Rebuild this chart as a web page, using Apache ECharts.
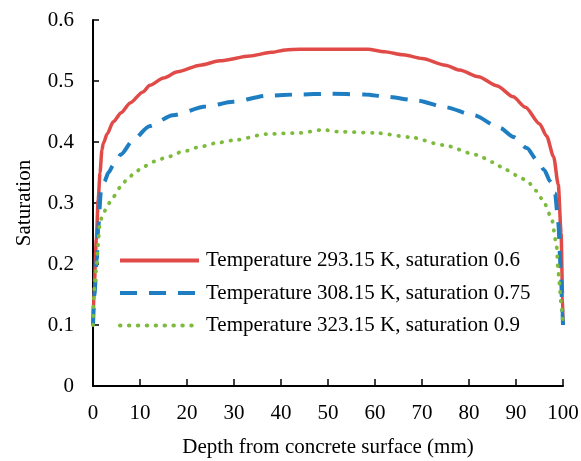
<!DOCTYPE html>
<html>
<head>
<meta charset="utf-8">
<script src="https://cdn.jsdelivr.net/npm/echarts@6/dist/echarts.min.js"></script>
<style>
  html, body { margin: 0; padding: 0; background: #fff; }
  #chart { width: 581px; height: 461px; }
</style>
</head>
<body>
<div id="chart"></div>
<script>
  // 数据：深度 (mm) 与饱和度
  const seriesNames = [
    "Temperature 293.15 K, saturation 0.6",
    "Temperature 308.15 K, saturation 0.75",
    "Temperature 323.15 K, saturation 0.9",
  ];

  const depthRed = [0, 0.3, 0.7, 1.1, 1.5, 1.9, 2.2, 3, 4.3, 6, 7.9, 10.6, 12.1, 15, 18, 22.8, 27, 33.4, 38, 41, 44, 50, 58.5, 62, 66, 70, 75, 78, 82, 86, 89.4, 92, 95, 96.5, 98, 99, 99.6, 99.9, 100];
  const satRed = [0.10, 0.17, 0.24, 0.305, 0.35, 0.387, 0.398, 0.413, 0.433, 0.448, 0.464, 0.482, 0.493, 0.505, 0.515, 0.526, 0.533, 0.541, 0.547, 0.551, 0.552, 0.552, 0.552, 0.548, 0.543, 0.537, 0.526, 0.518, 0.507, 0.492, 0.474, 0.457, 0.43, 0.41, 0.376, 0.33, 0.25, 0.15, 0.10];

  const depthBlue = [0, 0.3, 0.8, 1.1, 1.7, 2.4, 3.3, 4.3, 6, 8.5, 12, 17, 24, 29.8, 37, 44, 50, 58, 62.5, 69, 75, 81, 86.6, 89.5, 92.3, 94.5, 96, 97.3, 98.3, 99, 99.5, 99.9, 100];
  const satBlue = [0.10, 0.15, 0.207, 0.26, 0.32, 0.335, 0.35, 0.362, 0.38, 0.403, 0.426, 0.444, 0.458, 0.466, 0.476, 0.478, 0.479, 0.478, 0.474, 0.468, 0.457, 0.444, 0.423, 0.408, 0.39, 0.37, 0.354, 0.335, 0.316, 0.267, 0.195, 0.12, 0.10];

  const depthGreen = [0, 0.1, 0.4, 0.8, 1.0, 1.5, 2.2, 3.2, 4.3, 5.7, 7.2, 8.8, 10.6, 13, 15.7, 19, 22.8, 26, 30, 37, 44, 49, 52, 60, 67.5, 74.5, 81.7, 85, 88, 90.5, 92.5, 94.3, 95.7, 97.5, 98.6, 99, 99.7, 100];
  const satGreen = [0.10, 0.14, 0.17, 0.20, 0.228, 0.27, 0.283, 0.298, 0.31, 0.325, 0.338, 0.349, 0.359, 0.368, 0.375, 0.384, 0.392, 0.398, 0.403, 0.413, 0.415, 0.42, 0.417, 0.415, 0.408, 0.395, 0.379, 0.367, 0.354, 0.344, 0.335, 0.32, 0.305, 0.277, 0.234, 0.185, 0.13, 0.10];

  const chart = echarts.init(document.getElementById("chart"), null, { renderer: "canvas" });
  const FONT = "'Liberation Serif', 'Times New Roman', serif";
  const FS = 21;

  const pairs = (xs, ys) => xs.map((x, i) => [x, ys[i]]);

  const lineSeries = (name, data, color, lineStyle) => ({
    name,
    type: "line",
    data,
    symbol: "none",
    smooth: 0.25,
    smoothMonotone: "x",
    lineStyle: Object.assign({ color, width: 3.5 }, lineStyle),
    itemStyle: { color },
    z: 3,
  });

  chart.setOption({
    animation: false,
    backgroundColor: "#fff",
    textStyle: { fontFamily: FONT, color: "#000" },
    grid: { left: 93, right: 18, top: 20, bottom: 75, containLabel: false, outerBoundsMode: "none" },
    legend: {
      orient: "vertical",
      left: 113,
      top: 245,
      itemWidth: 79,
      itemHeight: 14,
      itemGap: 11.5,
      itemStyle: { opacity: 0 }, // 图例只画线，不画圆点
      lineStyle: { width: 4 },
      textStyle: {
        fontFamily: FONT,
        fontSize: FS,
        color: "#000",
        lineHeight: 20,
        padding: [0, 0, 0, 2],
      },
      data: seriesNames,
    },
    xAxis: {
      type: "value",
      min: 0,
      max: 100,
      interval: 10,
      name: "Depth from concrete surface (mm)",
      nameLocation: "middle",
      nameGap: 51,
      nameTextStyle: { fontFamily: FONT, fontSize: FS, color: "#000" },
      axisLine: { show: true, lineStyle: { color: "#000", width: 2 } },
      axisTick: { show: true, inside: true, length: 7, lineStyle: { color: "#000", width: 1.5 } },
      axisLabel: { fontFamily: FONT, fontSize: FS, color: "#000", margin: 17 },
      splitLine: { show: false },
    },
    yAxis: {
      type: "value",
      min: 0,
      max: 0.6,
      interval: 0.1,
      name: "Saturation",
      nameLocation: "middle",
      nameRotate: 90,
      nameGap: 58,
      nameTextStyle: { fontFamily: FONT, fontSize: FS, color: "#000" },
      axisLine: { show: true, lineStyle: { color: "#000", width: 2 } },
      axisTick: { show: true, inside: true, length: 6, lineStyle: { color: "#000", width: 1.5 } },
      axisLabel: { fontFamily: FONT, fontSize: FS, color: "#000", margin: 19 },
      splitLine: { show: false },
    },
    series: [
      lineSeries(seriesNames[0], pairs(depthRed, satRed), "#E04B48", { type: "solid" }),
      lineSeries(seriesNames[1], pairs(depthBlue, satBlue), "#1F7EC2", { type: [17, 12], width: 4 }),
      lineSeries(seriesNames[2], pairs(depthGreen, satGreen), "#7DBB3C", { type: [0.5, 8.4], cap: "round", width: 3.8 }),
    ],
  });
</script>
</body>
</html>
